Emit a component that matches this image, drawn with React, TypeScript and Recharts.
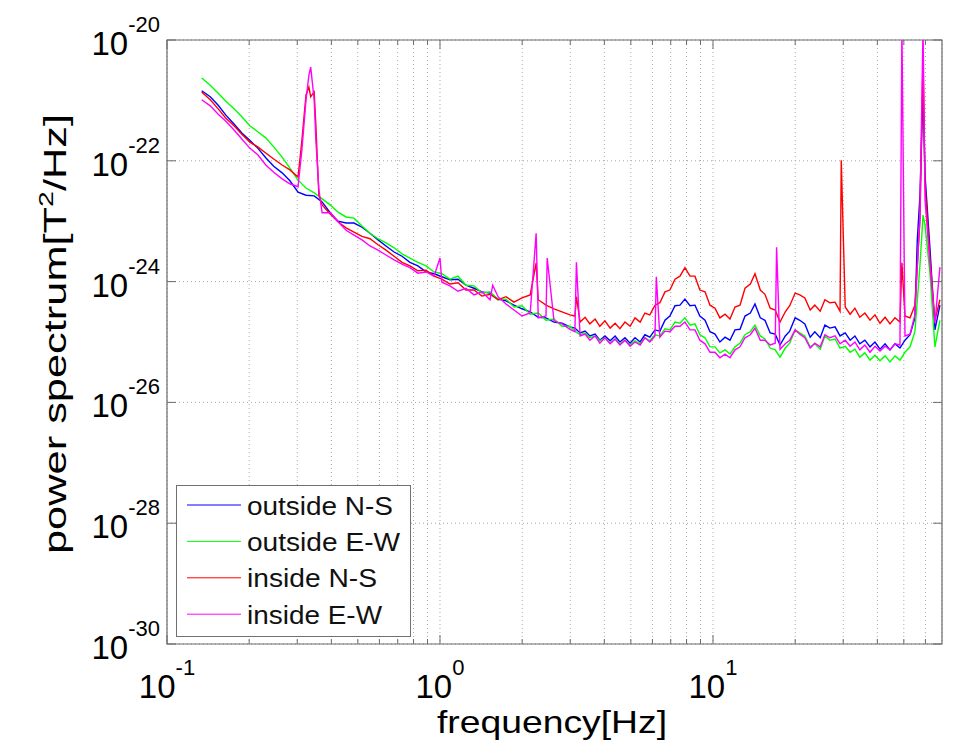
import React from 'react';
import {
  LineChart, Line, XAxis, YAxis, CartesianGrid, Legend, ReferenceArea
} from 'recharts';

// frequency grid [Hz] shared by the four sensors
const freqHz = [
  0.134, 0.144, 0.154, 0.164, 0.176, 0.188, 0.201, 0.215, 0.230, 0.246,
  0.264, 0.282, 0.302, 0.323, 0.346, 0.370, 0.396, 0.423, 0.453, 0.484,
  0.518, 0.554, 0.593, 0.634, 0.679, 0.726, 0.776, 0.830, 0.889, 0.951,
  1.016, 1.088, 1.164, 1.245, 1.332, 1.425, 1.525, 1.632, 1.745, 1.867,
  1.997, 2.14, 2.29, 2.445, 2.616, 2.798, 2.994,
  3.12, 3.26, 3.40, 3.54, 3.70, 3.85, 4.02, 4.20, 4.38, 4.56,
  4.76, 4.97, 5.18, 5.41, 5.63, 5.87, 6.13, 6.39, 6.67, 6.95,
  7.26, 7.57, 7.89, 8.24, 8.59, 8.95, 9.35, 9.75, 10.17, 10.6,
  11.07, 11.54, 12.04, 12.56, 13.1, 13.7, 14.25, 14.9, 15.5, 16.2,
  16.9, 17.6, 18.4, 19.1, 20.0, 20.8, 21.7, 22.7, 23.6, 24.7,
  25.7, 26.8, 28.0, 29.2, 30.5, 31.8, 33.1, 34.5, 36.0, 37.6,
  39.2, 40.9, 42.7, 44.5, 46.4, 48.4, 50.5, 52.7, 54.9, 57.3,
  59.8, 62.4, 65.0, 67.8,
];

// log10 of power spectrum [T^2/Hz]
const outsideNS = [
  -20.84, -20.94, -21.08, -21.24, -21.39, -21.54, -21.66, -21.79, -21.95, -22.09,
  -22.20, -22.33, -22.52, -22.57, -22.58, -22.68, -22.86, -23.00, -23.03, -23.03,
  -23.10, -23.20, -23.31, -23.41, -23.51, -23.58, -23.68, -23.74, -23.84, -23.87,
  -23.92, -23.97, -23.96, -24.06, -24.11, -24.17, -24.19, -24.29, -24.32, -24.39,
  -24.45, -24.50, -24.59, -24.60, -24.67, -24.69, -24.75,
  -24.77, -24.85, -24.82, -24.90, -24.87, -24.97, -24.90, -24.98, -24.90, -25.00,
  -24.93, -25.02, -24.93, -25.00, -24.88, -24.92, -24.80, -24.82, -24.64, -24.57,
  -24.40, -24.39, -24.29, -24.40, -24.39, -24.57, -24.64, -24.83, -24.87, -25.00,
  -24.92, -24.97, -24.80, -24.79, -24.57, -24.52, -24.37, -24.60, -24.64, -24.85,
  -24.87, -25.05, -24.90, -24.82, -24.60, -24.64, -24.70, -24.92, -24.83, -24.93,
  -24.72, -24.77, -24.75, -24.90, -24.85, -24.97, -24.90, -25.03, -24.97, -25.08,
  -25.00, -25.12, -25.03, -25.13, -25.03, -25.10, -24.97, -24.88, -24.60, -22.57,
  -22.24, -23.48, -24.80, -24.39,
];

const outsideEW = [
  -20.63, -20.75, -20.88, -21.01, -21.14, -21.27, -21.42, -21.52, -21.62, -21.77,
  -21.94, -22.12, -22.32, -22.45, -22.53, -22.63, -22.73, -22.85, -22.93, -22.95,
  -23.08, -23.20, -23.29, -23.36, -23.44, -23.54, -23.61, -23.68, -23.74, -23.84,
  -23.87, -23.96, -23.91, -24.06, -24.07, -24.19, -24.17, -24.30, -24.29, -24.42,
  -24.40, -24.54, -24.52, -24.64, -24.62, -24.74, -24.74,
  -24.82, -24.88, -24.85, -24.93, -24.90, -24.98, -24.93, -25.02, -24.95, -25.03,
  -24.97, -25.05, -24.98, -25.03, -24.93, -24.98, -24.88, -24.90, -24.78, -24.80,
  -24.67, -24.69, -24.60, -24.72, -24.70, -24.88, -24.93, -25.08, -25.08, -25.18,
  -25.13, -25.20, -25.08, -25.02, -24.88, -24.83, -24.72, -24.90, -24.95, -25.10,
  -25.13, -25.25, -25.10, -25.02, -24.80, -24.85, -24.90, -25.08, -25.03, -25.12,
  -24.90, -24.97, -24.95, -25.10, -25.07, -25.17, -25.12, -25.25, -25.18, -25.30,
  -25.22, -25.31, -25.23, -25.33, -25.23, -25.30, -25.17, -25.08, -24.83, -23.73,
  -23.06, -23.89, -25.08, -24.64,
];

const insideNS = [
  -20.86, -20.99, -21.14, -21.29, -21.42, -21.56, -21.69, -21.77, -21.87, -21.97,
  -22.07, -22.15, -22.27, -20.91, -20.86, -22.73, -22.88, -23.01, -23.11, -23.18,
  -23.25, -23.29, -23.39, -23.48, -23.58, -23.68, -23.74, -23.82, -23.81, -23.91,
  -23.96, -24.04, -24.02, -24.14, -24.14, -24.24, -24.21, -24.30, -24.25, -24.34,
  -24.27, -24.22, -24.30, -24.39, -24.45, -24.50, -24.55,
  -24.57, -24.67, -24.59, -24.70, -24.62, -24.74, -24.65, -24.77, -24.69, -24.78,
  -24.67, -24.74, -24.60, -24.67, -24.52, -24.55, -24.39, -24.35, -24.17, -24.14,
  -23.96, -23.91, -23.77, -23.91, -23.91, -24.14, -24.17, -24.39, -24.44, -24.60,
  -24.54, -24.62, -24.42, -24.39, -24.11, -24.04, -23.87, -24.14, -24.21, -24.44,
  -24.47, -24.67, -24.50, -24.40, -24.19, -24.22, -24.27, -24.47, -24.39, -24.49,
  -24.30, -24.35, -24.34, -24.49, -24.42, -24.54, -24.44, -24.59, -24.52, -24.64,
  -24.55, -24.69, -24.59, -24.70, -24.60, -24.67, -24.57, -24.60, -24.39, -22.98,
  -22.40, -23.64, -24.64, -24.30,
];

const insideEW = [
  -20.99, -21.09, -21.23, -21.34, -21.49, -21.64, -21.79, -21.90, -22.07, -22.19,
  -22.30, -22.38, -22.43, -20.99, -20.99, -22.86, -22.86, -23.01, -23.15, -23.23,
  -23.31, -23.41, -23.48, -23.56, -23.64, -23.71, -23.77, -23.86, -23.84, -23.91,
  -24.01, -24.07, -24.16, -24.11, -24.22, -24.17, -24.30, -24.25, -24.37, -24.47,
  -24.57, -24.52, -24.60, -24.57, -24.65, -24.70, -24.79,
  -24.83, -24.90, -24.87, -24.97, -24.90, -25.02, -24.93, -25.03, -24.95, -25.05,
  -24.97, -25.07, -25.00, -25.05, -24.93, -25.00, -24.90, -24.92, -24.82, -24.83,
  -24.74, -24.74, -24.67, -24.80, -24.80, -24.97, -25.03, -25.17, -25.17, -25.26,
  -25.20, -25.26, -25.13, -25.08, -24.93, -24.88, -24.77, -24.97, -24.97, -25.05,
  -25.02, -25.12, -25.03, -24.97, -24.80, -24.87, -24.93, -25.10, -25.02, -25.08,
  -24.88, -24.93, -24.90, -25.03, -24.97, -25.07, -25.00, -25.13, -25.05, -25.17,
  -25.07, -25.15, -25.07, -25.13, -25.03, -25.05, -24.90, -24.87, -24.55, -22.90,
  -22.65, -23.73, -24.69, -23.76,
];

// narrow lines [Hz, log10 PSD]
const outsideNSLines = [[56.0, -23.33], [58.8, -20.83]];
const outsideEWLines = [[58.8, -22.9]];
const insideNSLines = [
  [0.312, -21.66], [0.331, -20.78], [0.336, -20.94], [0.351, -21.41], [0.36, -22.57],
  [2.25, -23.69], [3.16, -24.25], [29.5, -21.99], [49.2, -23.69], [58.8, -20.3],
];
const insideEWLines = [
  [0.312, -21.82], [0.331, -20.58], [0.336, -20.45], [0.351, -21.66], [0.36, -22.48],
  [1.0, -23.61], [1.56, -24.06], [2.25, -23.2], [2.47, -23.61], [3.16, -23.68],
  [6.2, -23.92], [17.1, -23.43], [49.2, -19.8], [58.8, -19.8],
];

const xTicks = [
  0.1, 0.2, 0.3, 0.4, 0.5, 0.6, 0.7, 0.8, 0.9,
  1, 2, 3, 4, 5, 6, 7, 8, 9,
  10, 20, 30, 40, 50, 60,
];
const yTicks = [1e-30, 1e-28, 1e-26, 1e-24, 1e-22, 1e-20];

const FONT = '"Liberation Sans", Arial, Helvetica, sans-serif';
const PLOT = { left: 159, right: 934, top: 32, bottom: 636 };
const AXIS_COLOR = '#6b6b6b';

const buildSeries = (values: number[], lines: number[][]) => {
  const pts = freqHz.map((f, i) => ({ f, psd: Math.pow(10, values[i]) }));
  lines.forEach(([f, v]) => pts.push({ f, psd: Math.pow(10, v) }));
  return pts.sort((a, b) => a.f - b.f);
};

const series = [
  { name: 'outside N-S', color: '#0000ff', data: buildSeries(outsideNS, outsideNSLines) },
  { name: 'outside E-W', color: '#00ff00', data: buildSeries(outsideEW, outsideEWLines) },
  { name: 'inside N-S', color: '#ff0000', data: buildSeries(insideNS, insideNSLines) },
  { name: 'inside E-W', color: '#ff00ff', data: buildSeries(insideEW, insideEWLines) },
];

// rendered widths of the legend labels in the figure (its font runs wide)
const legendTextWidth = [146, 153, 130, 135];

const isDecade = (v: number) => {
  const lg = Math.log10(v);
  return Math.abs(lg - Math.round(lg)) < 1e-6;
};

const XTick = (props: any) => {
  const { x, payload } = props;
  const major = isDecade(payload.value);
  const len = major ? 9 : 5;
  return (
    <g>
      <line x1={x} x2={x} y1={PLOT.bottom} y2={PLOT.bottom - len} stroke={AXIS_COLOR} />
      <line x1={x} x2={x} y1={PLOT.top} y2={PLOT.top + len} stroke={AXIS_COLOR} />
      {major && (
        <text x={x} y={PLOT.bottom + 54} textAnchor="middle" fontFamily={FONT} fill="#000">
          <tspan fontSize={33}>10</tspan>
          <tspan fontSize={22} dy={-23}>{Math.round(Math.log10(payload.value))}</tspan>
        </text>
      )}
    </g>
  );
};

const YTick = (props: any) => {
  const { y, payload } = props;
  return (
    <g>
      <line x1={PLOT.left} x2={PLOT.left + 9} y1={y} y2={y} stroke={AXIS_COLOR} />
      <line x1={PLOT.right} x2={PLOT.right - 9} y1={y} y2={y} stroke={AXIS_COLOR} />
      <text x={PLOT.left - 7} y={y + 15} textAnchor="end" fontFamily={FONT} fill="#000">
        <tspan fontSize={33}>10</tspan>
        <tspan fontSize={22} dy={-23}>{Math.round(Math.log10(payload.value))}</tspan>
      </text>
    </g>
  );
};

const XTitle = () => (
  <text x={544} y={725} textAnchor="middle" fontSize={32} fontFamily={FONT} fill="#000"
    textLength={230} lengthAdjust="spacingAndGlyphs">
    frequency[Hz]
  </text>
);

const YTitle = () => (
  <text x={58} y={326} transform="rotate(-90 58 326)" textAnchor="middle" fontSize={32}
    fontFamily={FONT} fill="#000" textLength={440} lengthAdjust="spacingAndGlyphs">
    power spectrum[T<tspan fontSize={21} dy={-13}>2</tspan><tspan dy={13}>/Hz]</tspan>
  </text>
);

const LegendBox = () => (
  <svg width={236} height={153} style={{ display: 'block' }}>
    <rect x={0.5} y={0.5} width={234} height={151} fill="#fff" stroke="#707070" />
    {series.map((s, i) => {
      const cy = 20 + i * 36.4;
      return (
        <g key={s.name}>
          <line x1={11} x2={65} y1={cy} y2={cy} stroke={s.color} strokeWidth={1} />
          <text x={71} y={cy + 9.5} fontSize={26} fontFamily={FONT} fill="#111"
            textLength={legendTextWidth[i]} lengthAdjust="spacingAndGlyphs">
            {s.name}
          </text>
        </g>
      );
    })}
  </svg>
);

export default function App() {
  return (
    <div style={{ width: 940, height: 737, background: '#fff' }}>
      <LineChart width={940} height={737} margin={{ top: 32, right: 6, bottom: 41, left: 79 }}>
        <CartesianGrid stroke="#a8a8a8" strokeDasharray="1 3" />
        <XAxis
          dataKey="f" type="number" scale="log" domain={[0.1, 69]} ticks={xTicks}
          interval={0} allowDataOverflow axisLine={false} tickLine={false} tickSize={0}
          height={60} tick={<XTick />} label={<XTitle />}
        />
        <YAxis
          type="number" scale="log" domain={[1e-30, 1e-20]} ticks={yTicks}
          interval={0} allowDataOverflow axisLine={false} tickLine={false} tickSize={0}
          width={80} tick={<YTick />} label={<YTitle />}
        />
        {series.map((s) => (
          <Line
            key={s.name} name={s.name} data={s.data} dataKey="psd" type="linear"
            stroke={s.color} strokeWidth={1.4} dot={false} isAnimationActive={false}
          />
        ))}
        <ReferenceArea
          x1={0.1} x2={69} y1={1e-30} y2={1e-20} fill="none" stroke={AXIS_COLOR}
          strokeWidth={1.2} ifOverflow="visible"
        />
        <Legend
          layout="vertical" align="center" verticalAlign="middle" content={LegendBox}
          wrapperStyle={{ left: 168, top: 477, width: 236, height: 153 }}
        />
      </LineChart>
    </div>
  );
}
